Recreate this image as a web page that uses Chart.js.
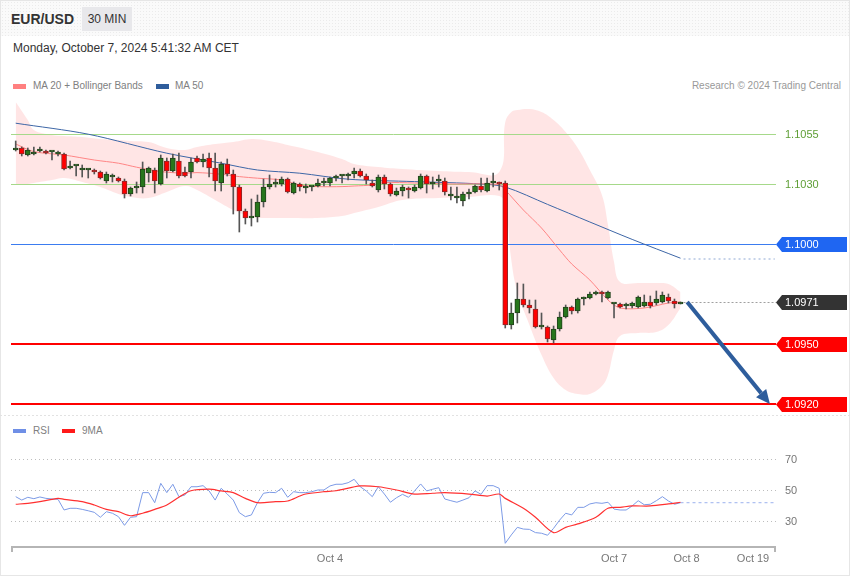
<!DOCTYPE html>
<html lang="en">
<head>
<meta charset="UTF-8">
<title>EUR/USD 30 MIN</title>
<script src="https://cdn.jsdelivr.net/npm/chart.js"></script>
<style>
    body { margin: 0; background: #fff; font-family: 'Liberation Sans', Arial, sans-serif; }
    .frame { position: relative; width: 850px; height: 576px; overflow: hidden; background: #fff; box-shadow: inset 0 0 0 1px #e6e6e6; }
    .header {
        position: absolute; left: 1px; top: 1px; width: 848px; height: 35px;
        background-color: #fafafa;
        background-image: radial-gradient(#ebebeb 0.8px, transparent 0.9px);
        background-size: 3px 3px;
    }
    .pair { position: absolute; left: 11px; top: 12px; font-size: 14px; line-height: 14px; font-weight: bold; color: #333; }
    .tf { position: absolute; left: 82px; top: 7px; width: 50px; height: 24px; line-height: 24px; background: #e8e8eb; font-size: 12px; color: #333; text-align: center; }
    .date { position: absolute; left: 13px; top: 42px; font-size: 12px; line-height: 13px; color: #333; }
    .legend { position: absolute; font-size: 10px; line-height: 10px; color: #808080; white-space: nowrap; }
    .sw { position: absolute; width: 13px; height: 5px; }
    canvas { position: absolute; left: 0; }
    #price { top: 90px; }
    #rsi { top: 420px; }
</style>
</head>
<body>
<div class="frame">
    <div class="header"></div>
    <div class="pair">EUR/USD</div>
    <div class="tf">30 MIN</div>
    <div class="date">Monday, October 7, 2024 5:41:32 AM CET</div>

    <div class="sw" style="left:13px; top:84px; background:#ff8080;"></div>
    <div class="legend" style="left:33px; top:81px;">MA 20 + Bollinger Bands</div>
    <div class="sw" style="left:156px; top:84px; background:#2f5d9c;"></div>
    <div class="legend" style="left:175px; top:81px;">MA 50</div>
    <div class="legend" style="right:9px; top:81px; color:#999;">Research © 2024 Trading Central</div>

    <div class="sw" style="left:13px; top:429px; height:4px; background:#6f8fe6;"></div>
    <div class="legend" style="left:33px; top:426px;">RSI</div>
    <div class="sw" style="left:62px; top:429px; height:4px; background:#ff1a1a;"></div>
    <div class="legend" style="left:82px; top:426px;">9MA</div>

    <canvas id="price" width="850" height="330"></canvas>
    <canvas id="rsi" width="850" height="156"></canvas>
</div>

<script>
    // 30 min candles, index 0 = oldest
    const opens = [1.1047,1.1048,1.10445,1.1045,1.10465,1.10465,1.1046,1.1045,1.1045,1.1038,
        1.1039,1.1037,1.1037,1.1037,1.1036,1.10315,1.10335,1.1033,1.10315,1.1025,
        1.1028,1.10285,1.10355,1.1037,1.103,1.10415,1.10365,1.10415,1.1036,1.1036,
        1.1043,1.1041,1.1043,1.1038,1.10305,1.104,1.1035,1.10285,1.10165,1.1013,
        1.10135,1.1021,1.10285,1.103,1.103,1.10325,1.10255,1.103,1.1028,1.10285,
        1.1029,1.10305,1.10305,1.1033,1.1034,1.1034,1.1035,1.10365,1.1034,1.10305,
        1.1027,1.10335,1.103,1.10245,1.10265,1.1028,1.10265,1.1028,1.1034,1.103,
        1.10315,1.10315,1.1024,1.1023,1.10215,1.1025,1.1026,1.1029,1.10265,1.10305,
        1.10305,1.10305,1.09595,1.09655,1.09725,1.09695,1.09675,1.09585,1.09585,1.0952,
        1.09575,1.09635,1.09685,1.09665,1.09725,1.0973,1.0975,1.0976,1.0973,1.097,
        1.097,1.0969,1.0969,1.09685,1.0969,1.0971,1.09705,1.0971,1.09735,1.09715,
        1.097];
    const highs = [1.10515,1.10485,1.1048,1.10485,1.10485,1.1047,1.10465,1.10465,1.10455,1.10415,
        1.10395,1.10395,1.10375,1.10375,1.10365,1.1036,1.1035,1.10335,1.10325,1.10285,
        1.1031,1.1041,1.10385,1.1038,1.10445,1.1043,1.1045,1.10455,1.10385,1.1043,
        1.1044,1.1045,1.10455,1.10455,1.1041,1.10425,1.1037,1.10295,1.10175,1.10225,
        1.10245,1.10325,1.10345,1.10325,1.10335,1.1033,1.1031,1.10305,1.103,1.1029,
        1.10325,1.1033,1.10335,1.10345,1.10345,1.10355,1.1038,1.10375,1.1035,1.1032,
        1.10345,1.10345,1.10305,1.1028,1.10295,1.10285,1.10295,1.1035,1.10345,1.10335,
        1.10345,1.1033,1.10285,1.10285,1.1026,1.10275,1.10295,1.1033,1.1033,1.10355,
        1.1031,1.10315,1.09705,1.09805,1.098,1.0972,1.0972,1.09655,1.0959,1.0959,
        1.0966,1.09695,1.0969,1.0973,1.09735,1.0976,1.09765,1.09765,1.09765,1.09705,
        1.09705,1.09705,1.0971,1.0974,1.09745,1.0974,1.09765,1.0976,1.0975,1.09725,
        1.0971];
    const lows = [1.10465,1.1044,1.1044,1.10445,1.1046,1.1045,1.1042,1.1044,1.1037,1.10375,
        1.1034,1.10335,1.1033,1.1035,1.10325,1.10305,1.1031,1.1031,1.1023,1.1024,
        1.10255,1.10255,1.1031,1.10255,1.10295,1.1033,1.1036,1.1033,1.10335,1.1033,
        1.10405,1.10385,1.10335,1.10265,1.10265,1.1034,1.1015,1.1006,1.101,1.1009,
        1.1011,1.10185,1.10275,1.10285,1.1029,1.10255,1.1025,1.10265,1.10255,1.10265,
        1.10285,1.1029,1.1029,1.10315,1.10305,1.1032,1.1033,1.10335,1.103,1.10285,
        1.1026,1.10275,1.1024,1.1024,1.1024,1.1023,1.1026,1.10275,1.10255,1.10275,
        1.10285,1.10245,1.1022,1.10205,1.1019,1.10225,1.10255,1.1026,1.1026,1.10285,
        1.1027,1.0958,1.09575,1.09605,1.09685,1.09655,1.0958,1.09575,1.0951,1.09505,
        1.09565,1.0963,1.0965,1.09655,1.09695,1.09725,1.09745,1.0971,1.09725,1.0963,
        1.0968,1.09675,1.0968,1.0968,1.09685,1.0968,1.09695,1.09705,1.09705,1.0968,
        1.097];
    const closes = [1.1048,1.1045,1.1047,1.1046,1.10465,1.10455,1.1046,1.1045,1.10375,1.1039,
        1.1039,1.1038,1.1037,1.1036,1.1033,1.1035,1.10335,1.10315,1.1025,1.1028,
        1.1028,1.10375,1.1038,1.10315,1.1043,1.10365,1.1043,1.1034,1.1034,1.1041,
        1.1041,1.10425,1.1038,1.10315,1.104,1.1035,1.10285,1.10165,1.1013,1.1014,
        1.1021,1.10285,1.103,1.103,1.10325,1.1026,1.10305,1.10285,1.10285,1.10285,
        1.10305,1.1031,1.1033,1.1034,1.1034,1.1035,1.10365,1.1034,1.1032,1.1029,
        1.10335,1.103,1.1025,1.10265,1.10285,1.1027,1.10285,1.1034,1.103,1.1031,
        1.10315,1.1026,1.1025,1.1024,1.1025,1.1026,1.1029,1.1027,1.10305,1.10305,
        1.103,1.09595,1.09655,1.09725,1.09695,1.0968,1.09585,1.09585,1.09525,1.09575,
        1.09635,1.09685,1.09665,1.09725,1.09725,1.0975,1.0976,1.0975,1.0976,1.097,
        1.09685,1.0969,1.09705,1.09735,1.0971,1.0969,1.09725,1.09745,1.09715,1.097,
        1.0971];

    // moving averages (sampled at candle indexes)
    const ma20Idx = [0,3,8,13,17,20,24,28,30,34,37,40,44,47,50,54,56,59,61,66,72,80,81,84,87,90,92,95,98,100,104,108,110];
    const ma20 = [1.105,1.10462,1.10445,1.1042,1.10404,1.10384,1.10362,1.10354,1.10357,1.10349,1.10337,1.10329,1.1032,1.10295,1.10287,
        1.10287,1.1029,1.10295,1.10307,1.10305,1.103,1.10297,1.1027,1.1017,1.1008,1.0997,1.099,1.0982,1.0972,1.0968,1.0968,1.09705,1.0971];
    const ma50Idx = [0,12,25,34,40,47,55,66,77,81,88,95,102,110];
    const ma50 = [1.10604,1.10549,1.10454,1.10404,1.1037,1.10354,1.10324,1.10312,1.103,1.10285,1.10198,1.1011,1.10023,1.09929];
    const ma50Next = 1.09925;

    // bollinger bands
    const bandIdx = [0,2,3,6,8,11,14,17,19,22,25,28,30,33,36,39,42,45,50,54,56,60,64,70,75,80,81,82,83,85,87,89,91,93,95,97,98,99,100,103,106,108,110];
    const bbUpper = [1.1071,1.1062,1.1057,1.10545,1.1054,1.10535,1.10525,1.1052,1.10515,1.1051,1.1048,1.1047,1.10485,1.105,1.1051,
        1.10525,1.10515,1.10495,1.1046,1.10425,1.104,1.10385,1.10375,1.10365,1.1036,1.1036,1.1061,1.1066,1.1067,1.10675,
        1.1066,1.1062,1.1056,1.1048,1.1037,1.10245,1.10095,1.0991,1.0981,1.09805,1.09805,1.098,1.0976];
    const bbLower = [1.10295,1.103,1.10305,1.1032,1.1033,1.1031,1.10285,1.1025,1.10235,1.1023,1.1026,1.1029,1.1027,1.1022,1.1017,
        1.10135,1.1013,1.1013,1.1013,1.1014,1.10155,1.10185,1.1022,1.1023,1.10235,1.1024,1.10195,1.0992,1.0976,1.09595,
        1.09445,1.0933,1.0927,1.0925,1.0925,1.0929,1.09345,1.0947,1.0954,1.09555,1.0956,1.09595,1.0968];

    // horizontal levels
    const levels = [1.1055, 1.1030, 1.1000, 1.0971, 1.0950, 1.0920];
    const levelStyle = [
        {line: '#a6d98a', text: '#5e9e35', w: 1},
        {line: '#a6d98a', text: '#5e9e35', w: 1},
        {line: '#3b7cf0', box: '#1f66f2', w: 1},
        {line: '#a0a0a0', box: '#333333', w: 1, dash: [2, 2], fromLast: true},
        {line: '#ff0000', box: '#ff0000', w: 2},
        {line: '#ff0000', box: '#ff0000', w: 2}
    ];
    const arrowFrom = [111.1, 1.0971];
    const arrowTo = [124.8, 1.0920];

    // RSI panel
    const rsi = [45.7,43.5,45.3,44.4,45.5,44.6,44.2,44.0,37.1,38.2,
        38.2,37.5,36.6,35.6,32.4,36.0,35.0,32.8,27.2,32.4,
        32.8,48.3,48.3,41.8,54.3,48.3,53.7,45.7,46.8,52.1,
        52.1,52.8,49.4,43.5,51.1,47.4,43.5,35.4,32.8,33.9,
        41.8,47.9,48.5,48.3,51.1,45.3,48.9,48.3,48.3,48.9,
        50.0,50.0,52.6,53.7,53.7,54.7,56.9,52.1,49.4,45.7,
        52.1,47.4,42.1,45.0,47.2,45.3,49.4,53.9,49.4,50.5,
        51.5,44.2,43.1,42.1,43.5,45.0,49.4,47.2,52.8,52.8,
        51.1,15.6,21.0,25.9,24.8,24.6,22.5,22.1,20.8,25.3,
        30.6,35.0,33.9,38.8,38.8,41.0,41.8,41.4,42.1,37.7,
        37.1,37.1,39.7,43.1,40.5,40.8,43.1,45.7,42.9,40.8,41.8];
    const ma9Idx = [0,2,4,7,8,11,13,15,17,19,21,23,25,27,29,32,34,36,38,40,43,45,47,48,51,53,57,60,63,66,69,71,75,78,80,81,84,86,89,91,93,96,98,100,102,105,108,110];
    const ma9 = [40.8,41.4,42.5,44.6,44.0,42.5,40.3,37.5,36.0,33.4,35.0,37.5,40.3,45.3,49.5,50.5,49.4,48.3,44.6,41.8,
        42.5,42.9,46.1,47.4,48.9,49.5,52.6,52.1,50.0,47.4,47.9,48.3,47.4,46.1,47.4,44.6,38.2,32.4,22.5,25.9,
        28.1,32.4,38.2,38.8,39.7,39.7,41.0,42.1];
    const rsiTicks = [70, 50, 30];

    // time axis
    const xTickPos = [52, 99, 111, 122];
    const xTickLabels = ['Oct 4', 'Oct 7', 'Oct 8', 'Oct 19'];

    const lastIdx = closes.length - 1;
    const futureIdx = 125.6;
    const xMin = -0.78, xMax = 125.8;
    const FONT = '"Liberation Sans", Arial, sans-serif';

    const pts = (idx, vals) => idx.map((x, k) => ({x: x, y: vals[k]}));
    const isUp = i => closes[i] >= opens[i];

    const priceDecor = {
        id: 'priceDecor',
        afterDatasetDraw(chart, args) {
            if (args.index !== 0) return;
            const {ctx, chartArea: a, scales: {x, y}} = chart;
            ctx.save();
            levels.forEach((v, k) => {
                const st = levelStyle[k];
                const py = Math.round(y.getPixelForValue(v)) + (st.w % 2 ? 0.5 : 0);
                const x0 = st.fromLast ? x.getPixelForValue(lastIdx + 0.5) : a.left;
                ctx.beginPath();
                ctx.strokeStyle = st.line;
                ctx.lineWidth = st.w;
                ctx.setLineDash(st.dash || []);
                ctx.moveTo(x0, py);
                ctx.lineTo(a.right, py);
                ctx.stroke();
            });
            ctx.restore();
        },
        afterDatasetsDraw(chart) {
            const {ctx, scales: {x, y}} = chart;
            const x0 = x.getPixelForValue(arrowFrom[0]), y0 = y.getPixelForValue(arrowFrom[1]);
            const x1 = x.getPixelForValue(arrowTo[0]), y1 = y.getPixelForValue(arrowTo[1]);
            const ang = Math.atan2(y1 - y0, x1 - x0);
            const head = 14, hw = 6.5;
            const bx = x1 - head * Math.cos(ang), by = y1 - head * Math.sin(ang);
            ctx.save();
            ctx.strokeStyle = '#2e5d9c';
            ctx.fillStyle = '#2e5d9c';
            ctx.lineWidth = 4;
            ctx.beginPath();
            ctx.moveTo(x0, y0);
            ctx.lineTo(bx, by);
            ctx.stroke();
            ctx.beginPath();
            ctx.moveTo(x1, y1);
            ctx.lineTo(bx + hw * Math.sin(ang), by - hw * Math.cos(ang));
            ctx.lineTo(bx - hw * Math.sin(ang), by + hw * Math.cos(ang));
            ctx.closePath();
            ctx.fill();
            ctx.restore();
        },
        afterDraw(chart) {
            const {ctx, chartArea: a, scales: {y}} = chart;
            ctx.save();
            // panel separator
            ctx.strokeStyle = '#e2e2e2';
            ctx.setLineDash([2, 2]);
            ctx.beginPath();
            ctx.moveTo(0, a.bottom + 0.5);
            ctx.lineTo(850, a.bottom + 0.5);
            ctx.stroke();
            ctx.setLineDash([]);
            ctx.font = '11px ' + FONT;
            ctx.textBaseline = 'middle';
            levels.forEach((v, k) => {
                const st = levelStyle[k];
                const yc = Math.round(y.getPixelForValue(v)) + 0.5;
                const tip = a.right;
                if (st.box) {
                    ctx.fillStyle = st.box;
                    ctx.beginPath();
                    ctx.moveTo(tip, yc);
                    ctx.lineTo(tip + 6, yc - 7.5);
                    ctx.lineTo(847, yc - 7.5);
                    ctx.lineTo(847, yc + 7.5);
                    ctx.lineTo(tip + 6, yc + 7.5);
                    ctx.closePath();
                    ctx.fill();
                    ctx.fillStyle = '#fff';
                } else {
                    ctx.fillStyle = st.text;
                }
                ctx.fillText(v.toFixed(4), tip + 9, yc + 0.5);
            });
            ctx.restore();
        }
    };

    new Chart(document.getElementById('price'), {
        type: 'line',
        data: {
            datasets: [
                {label: 'BB upper', data: pts(bandIdx, bbUpper), borderWidth: 0, pointRadius: 0, tension: 0.4,
                    fill: '+1', backgroundColor: 'rgba(255, 0, 0, 0.1)', order: 10},
                {label: 'BB lower', data: pts(bandIdx, bbLower), borderWidth: 0, pointRadius: 0, tension: 0.4,
                    fill: false, order: 10},
                {label: 'MA 50', data: pts(ma50Idx, ma50), borderColor: '#3d66a6', borderWidth: 1, pointRadius: 0,
                    tension: 0.3, order: 6},
                {label: 'MA 50 next', data: [{x: lastIdx + 0.5, y: ma50Next}, {x: futureIdx, y: ma50Next}],
                    borderColor: '#8fa8d4', borderWidth: 1, borderDash: [2, 3], pointRadius: 0, order: 6},
                {label: 'MA 20', data: pts(ma20Idx, ma20), borderColor: '#ff8585', borderWidth: 1, pointRadius: 0,
                    tension: 0.3, order: 5},
                {type: 'bar', label: 'wicks', data: highs.map((h, i) => ({x: i, y: [lows[i], h]})),
                    backgroundColor: '#555', barThickness: 1, grouped: false, order: 3},
                {type: 'bar', label: 'bodies', data: opens.map((o, i) => ({x: i, y: [o, closes[i]]})),
                    backgroundColor: opens.map((o, i) => isUp(i) ? '#27761c' : '#ff0000'),
                    borderColor: opens.map((o, i) => isUp(i) ? '#23421c' : '#8a2a2a'),
                    borderWidth: 1, borderSkipped: false, barThickness: 5, minBarLength: 2,
                    grouped: false, order: 2}
            ]
        },
        options: {
            responsive: false,
            animation: false,
            events: [],
            layout: {padding: {left: 11, right: 74, top: 7, bottom: 5}},
            plugins: {legend: {display: false}, tooltip: {enabled: false}},
            scales: {
                x: {type: 'linear', min: xMin, max: xMax, offset: false, display: false},
                y: {type: 'linear', min: 1.09145, max: 1.10735, display: false}
            }
        },
        plugins: [priceDecor]
    });

    const rsiDecor = {
        id: 'rsiDecor',
        beforeDatasetsDraw(chart) {
            const {ctx, chartArea: a, scales: {y}} = chart;
            ctx.save();
            ctx.strokeStyle = '#bdbdbd';
            ctx.lineWidth = 1;
            ctx.setLineDash([1, 3]);
            ctx.font = '11px ' + FONT;
            ctx.fillStyle = '#777';
            ctx.textBaseline = 'middle';
            rsiTicks.forEach(v => {
                const py = Math.round(y.getPixelForValue(v)) + 0.5;
                ctx.beginPath();
                ctx.moveTo(a.left, py);
                ctx.lineTo(a.right, py);
                ctx.stroke();
                ctx.fillText(String(v), a.right + 9, py);
            });
            ctx.restore();
        },
        afterDraw(chart) {
            const {ctx, chartArea: a, scales: {x}} = chart;
            ctx.save();
            ctx.strokeStyle = '#b5b5b5';
            ctx.lineWidth = 2;
            ctx.beginPath();
            ctx.moveTo(a.left + 1, a.bottom + 6);
            ctx.lineTo(a.left + 1, a.bottom + 1);
            ctx.lineTo(a.right - 1, a.bottom + 1);
            ctx.lineTo(a.right - 1, a.bottom + 6);
            ctx.stroke();
            ctx.font = '11px ' + FONT;
            ctx.fillStyle = '#777';
            ctx.textAlign = 'center';
            ctx.textBaseline = 'middle';
            xTickPos.forEach((p, k) => {
                ctx.fillText(xTickLabels[k], x.getPixelForValue(p), a.bottom + 13);
            });
            ctx.restore();
        }
    };

    new Chart(document.getElementById('rsi'), {
        type: 'line',
        data: {
            datasets: [
                {label: '9MA', data: pts(ma9Idx, ma9), borderColor: '#ff3030', borderWidth: 1.2, pointRadius: 0,
                    tension: 0.3, order: 1},
                {label: 'RSI', data: rsi.map((v, i) => ({x: i, y: v})), borderColor: '#7c9ae6', borderWidth: 1,
                    pointRadius: 0, tension: 0, order: 2},
                {label: 'RSI next', data: [{x: lastIdx, y: rsi[lastIdx]}, {x: futureIdx, y: rsi[lastIdx]}],
                    borderColor: '#9cb2ee', borderWidth: 1, borderDash: [3, 3], pointRadius: 0, order: 3}
            ]
        },
        options: {
            responsive: false,
            animation: false,
            events: [],
            layout: {padding: {left: 11, right: 74, top: 25, bottom: 30}},
            plugins: {legend: {display: false}, tooltip: {enabled: false}},
            scales: {
                x: {type: 'linear', min: xMin, max: xMax, offset: false, display: false},
                y: {type: 'linear', min: 13.87, max: 79.03, display: false}
            }
        },
        plugins: [rsiDecor]
    });
</script>
</body>
</html>
